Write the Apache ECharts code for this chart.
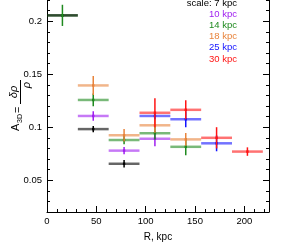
<!DOCTYPE html>
<html><head><meta charset="utf-8">
<script src="https://cdn.jsdelivr.net/npm/echarts@6/dist/echarts.min.js"></script>
<style>html,body{margin:0;padding:0;background:#fff}#c{width:293px;height:251px}</style>
</head><body><div id="c"></div>
<script>
// bins of 31.25 kpc
const binCenters = [15.625, 46.875, 78.125, 109.375, 140.625, 171.875, 203.125];
const binHalfWidth = 15.625;

const scaleLabels = ['scale: 7 kpc', '10 kpc', '14 kpc', '18 kpc', '25 kpc', '30 kpc'];
const scaleColors = ['#000000', '#a020f0', '#1f8a1f', '#e8843c', '#1414ff', '#ff1414'];

const val7  = [0.2055, 0.0982, 0.0655, null, null, null, null];
const err7  = [0, 0.003, 0.0035, null, null, null, null];
const val10 = [null, 0.1106, 0.0779, 0.0891, null, null, null];
const err10 = [null, 0.0045, 0.0035, 0.007, null, null, null];
const val14 = [0.2055, 0.1257, 0.0879, 0.0943, 0.0815, null, null];
const err14 = [0.01, 0.006, 0.004, 0.006, 0.008, null, null];
const val18 = [null, 0.1394, 0.0924, 0.1018, 0.0885, null, null];
const err18 = [null, 0.009, 0.006, 0.007, 0.006, null, null];
const val25 = [null, null, null, 0.1106, 0.1075, 0.0848, null];
const err25 = [null, null, null, 0.003, 0.0076, 0.0075, null];
const val30 = [null, null, null, 0.1136, 0.1164, 0.090, 0.077];
const err30 = [null, null, null, 0.0136, 0.009, 0.01, 0.004];

const xTicks = [0, 50, 100, 150, 200];
const yTicks = [0.05, 0.1, 0.15, 0.2];

const allVals = [val7, val10, val14, val18, val25, val30];
const allErrs = [err7, err10, err14, err18, err25, err30];

function mk(i) {
  const d = [];
  allVals[i].forEach((v, k) => { if (v !== null) d.push([binCenters[k], v, allErrs[i][k]]); });
  return d;
}

const FONT = 'Liberation Sans';
const chart = echarts.init(document.getElementById('c'), null, {renderer: 'canvas'});

const series = [];
// horizontal bars: draw order so that black's first bar sits on the green one
const hOrder = [1, 2, 3, 4, 5, 0];
hOrder.forEach(i => {
  series.push({
    type: 'custom', z: 2, silent: true, data: mk(i),
    renderItem: (params, api) => {
      const x = api.value(0), y = api.value(1);
      const p1 = api.coord([x - binHalfWidth, y]);
      const p2 = api.coord([x + binHalfWidth, y]);
      return {type: 'line', shape: {x1: p1[0], y1: p1[1], x2: p2[0], y2: p2[1]},
        style: {stroke: scaleColors[i], lineWidth: 2.5, opacity: 0.6}};
    }
  });
});
[0, 1, 2, 3, 4, 5].forEach(i => {
  series.push({
    type: 'custom', z: 3, silent: true, data: mk(i),
    renderItem: (params, api) => {
      const x = api.value(0), y = api.value(1), e = api.value(2);
      const c = api.coord([x, y]);
      const a = api.coord([x, y - e]);
      const b = api.coord([x, y + e]);
      return {type: 'group', children: [
        {type: 'line', shape: {x1: a[0], y1: a[1], x2: b[0], y2: b[1]},
          style: {stroke: scaleColors[i], lineWidth: 1.5}},
        {type: 'rect', shape: {x: c[0] - 1.2, y: c[1] - 1.2, width: 2.4, height: 2.4},
          style: {fill: scaleColors[i]}}
      ]};
    }
  });
});

const yMin = 0.02, yMax = 0.22, xMin = 0, xMax = 225;
const lblFmt = v => {
  const r = Math.round(v * 100) / 100;
  return yTicks.some(t => Math.abs(t - r) < 1e-6) ? String(Number(r.toFixed(2))) : '';
};

const graphic = [];
scaleLabels.forEach((t, i) => {
  graphic.push({type: 'text', left: null, x: 237, y: 3 + i * 11.2, silent: true,
    style: {text: t, fill: scaleColors[i], font: '9.5px "' + FONT + '"', textAlign: 'right', textVerticalAlign: 'middle'}});
});
graphic.push({
  type: 'group', x: 21, y: 131, rotation: Math.PI / 2, silent: true,
  children: [
    {type: 'text', style: {text: 'A', x: 0, y: 0, font: '11px "' + FONT + '"', fill: '#000', textAlign: 'left', textVerticalAlign: 'bottom'}},
    {type: 'text', style: {text: '3D', x: 8, y: 2.5, font: '7px "' + FONT + '"', fill: '#000', textAlign: 'left', textVerticalAlign: 'bottom'}},
    {type: 'text', style: {text: '=', x: 18, y: -3.5, font: '11px "' + FONT + '"', fill: '#000', textAlign: 'left', textVerticalAlign: 'middle'}},
    {type: 'line', shape: {x1: 27, y1: -0.5, x2: 51, y2: -0.5}, style: {stroke: '#000', lineWidth: 1}},
    {type: 'text', style: {text: 'δρ', x: 39, y: -1.5, font: 'italic 11px "' + FONT + '"', fill: '#000', textAlign: 'center', textVerticalAlign: 'bottom'}},
    {type: 'text', style: {text: 'ρ', x: 46, y: 0.5, font: 'italic 11px "' + FONT + '"', fill: '#000', textAlign: 'center', textVerticalAlign: 'top'}}
  ]
});

const axisLineStyle = {color: '#000', width: 1};
chart.setOption({
  animation: false,
  grid: {left: 47, right: 24, top: -8, bottom: 39, containLabel: false},
  xAxis: [
    {type: 'value', min: xMin, max: xMax, interval: 50, position: 'bottom',
      name: 'R, kpc', nameLocation: 'middle', nameGap: 20,
      nameTextStyle: {color: '#000', fontFamily: FONT, fontSize: 10},
      axisLine: {show: true, lineStyle: axisLineStyle},
      axisTick: {show: true, inside: true, length: 6, lineStyle: axisLineStyle},
      axisLabel: {color: '#000', fontFamily: FONT, fontSize: 9.5, margin: 4,
        formatter: v => xTicks.includes(v) ? String(v) : ''},
      splitLine: {show: false}},
    {type: 'value', min: xMin, max: xMax, interval: 10, position: 'bottom',
      axisLine: {show: false},
      axisTick: {show: true, inside: true, length: 3, lineStyle: axisLineStyle},
      axisLabel: {show: false}, splitLine: {show: false}}
  ],
  yAxis: [
    {type: 'value', min: yMin, max: yMax, interval: 0.01, position: 'left',
      axisLine: {show: true, lineStyle: axisLineStyle},
      axisTick: {show: true, inside: true, length: 3, lineStyle: axisLineStyle},
      axisLabel: {color: '#000', fontFamily: FONT, fontSize: 9.5, margin: 5, formatter: lblFmt},
      splitLine: {show: false}},
    {type: 'value', min: yMin, max: yMax, position: 'left',
      axisLine: {show: false},
      axisTick: {show: true, inside: true, length: 6, lineStyle: axisLineStyle, customValues: yTicks},
      axisLabel: {show: false}, splitLine: {show: false}},
    {type: 'value', min: yMin, max: yMax, interval: 0.01, position: 'right',
      axisLine: {show: true, lineStyle: axisLineStyle},
      axisTick: {show: true, inside: true, length: 3, lineStyle: axisLineStyle},
      axisLabel: {show: false}, splitLine: {show: false}},
    {type: 'value', min: yMin, max: yMax, position: 'right',
      axisLine: {show: false},
      axisTick: {show: true, inside: true, length: 6, lineStyle: axisLineStyle, customValues: yTicks},
      axisLabel: {show: false}, splitLine: {show: false}}
  ],
  series: series,
  graphic: graphic
});
</script></body></html>
